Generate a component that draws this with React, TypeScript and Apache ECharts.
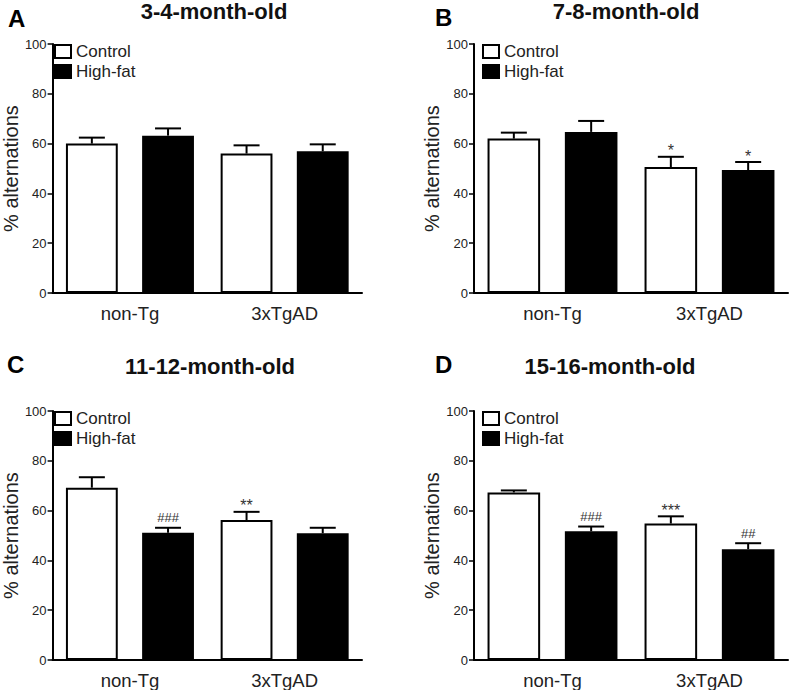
import React, { useEffect, useRef } from "react";
import * as echarts from "echarts";

const categories = ["non-Tg", "3xTgAD"];
const seriesNames = ["Control", "High-fat"];
const yTicks = [0, 20, 40, 60, 80, 100];

const panelLetters = ["A", "B", "C", "D"];
const panelTitles = ["3-4-month-old", "7-8-month-old", "11-12-month-old", "15-16-month-old"];

// means and SEM per panel, per group (non-Tg, 3xTgAD)
const controlMeanA = [60.0, 56.0];
const controlSemA = [2.4, 3.3];
const highFatMeanA = [63.2, 56.9];
const highFatSemA = [2.9, 2.8];

const controlMeanB = [62.0, 50.6];
const controlSemB = [2.4, 4.1];
const highFatMeanB = [64.7, 49.4];
const highFatSemB = [4.4, 3.2];

const controlMeanC = [69.2, 56.2];
const controlSemC = [4.2, 3.3];
const highFatMeanC = [51.1, 50.9];
const highFatSemC = [2.0, 2.2];

const controlMeanD = [67.3, 54.8];
const controlSemD = [0.8, 2.9];
const highFatMeanD = [51.7, 44.5];
const highFatSemD = [1.9, 2.4];

const controlMarksA = ["", ""];
const highFatMarksA = ["", ""];
const controlMarksB = ["", "*"];
const highFatMarksB = ["", "*"];
const controlMarksC = ["", "**"];
const highFatMarksC = ["###", ""];
const controlMarksD = ["", "***"];
const highFatMarksD = ["###", "##"];

const FONT = "'Liberation Sans', Arial, sans-serif";
const BAR_FRAC = 0.335;
const GAP_FRAC = 0.47;

const panels = [
  { cm: controlMeanA, cs: controlSemA, hm: highFatMeanA, hs: highFatSemA, ck: controlMarksA, hk: highFatMarksA },
  { cm: controlMeanB, cs: controlSemB, hm: highFatMeanB, hs: highFatSemB, ck: controlMarksB, hk: highFatMarksB },
  { cm: controlMeanC, cs: controlSemC, hm: highFatMeanC, hs: highFatSemC, ck: controlMarksC, hk: highFatMarksC },
  { cm: controlMeanD, cs: controlSemD, hm: highFatMeanD, hs: highFatSemD, ck: controlMarksD, hk: highFatMarksD },
];

const grids = [
  { left: 46, top: 44, width: 316, height: 249 },
  { left: 474, top: 44, width: 314, height: 249 },
  { left: 46, top: 411, width: 316, height: 249 },
  { left: 474, top: 411, width: 314, height: 249 },
];

const letterPos = [
  [8, 18],
  [435, 17],
  [7, 364],
  [435, 364],
];
const titlePos = [
  [214, 11],
  [626, 11],
  [210, 366],
  [610, 366],
];

function makeErrorSeries(panelIdx: number, sIdx: number, means: number[], sems: number[], marks: string[]) {
  return {
    type: "custom",
    xAxisIndex: panelIdx,
    yAxisIndex: panelIdx,
    z: 5,
    silent: true,
    data: means.map((m, i) => [i, m, m + sems[i]]),
    renderItem: (params: any, api: any) => {
      const cat = api.value(0);
      const mean = api.value(1);
      const top = api.value(2);
      const band = api.size([1, 0])[0];
      const bw = band * BAR_FRAC;
      const off = (sIdx === 0 ? -1 : 1) * (bw + bw * GAP_FRAC) / 2;
      const p0 = api.coord([cat, mean]);
      const p1 = api.coord([cat, top]);
      const x = p0[0] + off;
      const cap = 13;
      const children: any[] = [
        { type: "line", shape: { x1: x, y1: p0[1], x2: x, y2: p1[1] }, style: { stroke: "#000", lineWidth: 2 } },
        { type: "line", shape: { x1: x - cap, y1: p1[1], x2: x + cap, y2: p1[1] }, style: { stroke: "#000", lineWidth: 2 } },
      ];
      const mk = marks[params.dataIndex];
      if (mk) {
        const isStar = mk.indexOf("*") >= 0;
        children.push({
          type: "text",
          x: x,
          y: p1[1] - (isStar ? 6 : 10),
          style: {
            text: mk,
            fontSize: isStar ? 16 : 13,
            fontFamily: FONT,
            fill: "#333",
            align: "center",
            verticalAlign: "middle",
            textAlign: "center",
            textVerticalAlign: "middle",
          },
        });
      }
      return { type: "group", children };
    },
  };
}

export default function App() {
  const ref = useRef<HTMLDivElement>(null);
  useEffect(() => {
    if (!ref.current) return;
    const chart = echarts.init(ref.current, undefined, { renderer: "svg" });
    const series: any[] = [];
    panels.forEach((p, i) => {
      series.push({
        type: "bar",
        name: seriesNames[0],
        xAxisIndex: i,
        yAxisIndex: i,
        data: p.cm,
        barWidth: (BAR_FRAC * 100) + "%",
        barGap: (GAP_FRAC * 100) + "%",
        itemStyle: { color: "#fff", borderColor: "#000", borderWidth: 2 },
        silent: true,
      });
      series.push({
        type: "bar",
        name: seriesNames[1],
        xAxisIndex: i,
        yAxisIndex: i,
        data: p.hm,
        barWidth: (BAR_FRAC * 100) + "%",
        barGap: (GAP_FRAC * 100) + "%",
        itemStyle: { color: "#000", borderColor: "#000", borderWidth: 2 },
        silent: true,
      });
      series.push(makeErrorSeries(i, 0, p.cm, p.cs, p.ck));
      series.push(makeErrorSeries(i, 1, p.hm, p.hs, p.hk));
    });

    const graphic: any[] = [];
    panelLetters.forEach((l, i) => {
      graphic.push({
        type: "text",
        x: letterPos[i][0],
        y: letterPos[i][1],
        style: {
          text: l,
          fontSize: 24,
          fontWeight: "bold",
          fontFamily: FONT,
          fill: "#000",
          align: "left",
          verticalAlign: "middle",
          textAlign: "left",
          textVerticalAlign: "middle",
        },
      });
      graphic.push({
        type: "text",
        x: titlePos[i][0],
        y: titlePos[i][1],
        style: {
          text: panelTitles[i],
          fontSize: 22,
          fontWeight: "bold",
          fontFamily: FONT,
          fill: "#111",
          align: "center",
          verticalAlign: "middle",
          textAlign: "center",
          textVerticalAlign: "middle",
        },
      });
    });

    const option: any = {
      animation: false,
      backgroundColor: "#fff",
      grid: grids.map((g) => ({ ...g, containLabel: false })),
      xAxis: grids.map((_, i) => ({
        type: "category",
        gridIndex: i,
        data: categories,
        z: 4,
        axisLine: { lineStyle: { color: "#000", width: 2 } },
        axisTick: { show: false },
        axisLabel: { fontSize: 18.5, color: "#222", fontFamily: FONT, margin: 11 },
      })),
      yAxis: grids.map((_, i) => ({
        type: "value",
        gridIndex: i,
        min: yTicks[0],
        max: yTicks[yTicks.length - 1],
        interval: yTicks[1] - yTicks[0],
        name: "% alternations",
        nameLocation: "middle",
        nameRotate: 90,
        nameGap: 27,
        nameTextStyle: { fontSize: 20, color: "#222", fontFamily: FONT },
        z: 4,
        axisLine: { show: true, lineStyle: { color: "#000", width: 2 } },
        axisTick: { show: true, length: 5, lineStyle: { color: "#000", width: 1.5 } },
        axisLabel: { fontSize: 13, color: "#222", fontFamily: FONT, margin: 6 },
        splitLine: { show: false },
      })),
      legend: grids.map((g, i) => ({
        data: seriesNames,
        orient: "vertical",
        left: g.left + 8,
        top: g.top - 1,
        padding: 0,
        itemWidth: 16,
        itemHeight: 13,
        itemGap: 3,
        icon: "rect",
        selectedMode: false,
        textStyle: { fontSize: 17, color: "#222", fontFamily: FONT },
      })),
      series,
      graphic,
    };
    chart.setOption(option);
    return () => chart.dispose();
  }, []);
  return (
    <div
      ref={ref}
      style={{ position: "absolute", left: 0, top: 0, width: 791, height: 690 }}
    />
  );
}
